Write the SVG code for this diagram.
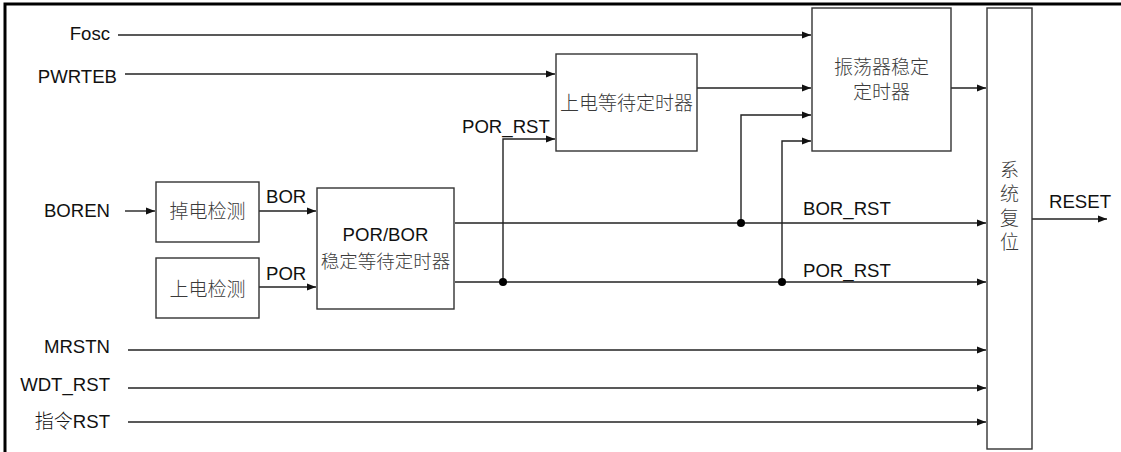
<svg xmlns="http://www.w3.org/2000/svg" width="1121" height="452" viewBox="0 0 1121 452">
<style>
.box{fill:#fff;stroke:#333;stroke-width:1.4}
.a{fill:none;stroke:#222;stroke-width:1.4;marker-end:url(#arr)}
.t{font-family:"Liberation Sans",Arial,sans-serif;font-size:18.6px;fill:#111}
.c{font-family:"Noto Sans CJK SC","Liberation Sans",sans-serif;font-size:19px;fill:#3a3a3a;font-weight:300}
.dot{fill:#000}
</style>
<defs>
<marker id="arr" markerWidth="9" markerHeight="8" refX="9" refY="4" orient="auto" markerUnits="userSpaceOnUse">
<path d="M0,0.5 L9,4 L0,7.5 Z" fill="#111"/>
</marker>
</defs>
<rect width="1121" height="452" fill="#fff"/>
<path d="M5,452 V4 H1121" fill="none" stroke="#000" stroke-width="3"/>

<g id="connectors">
<line class="a" x1="118" y1="35" x2="811" y2="35"/>
<line class="a" x1="125" y1="74" x2="555" y2="74"/>
<polyline class="a" points="503,282 503,139 555,139"/>
<line class="a" x1="697" y1="88" x2="811" y2="88"/>
<polyline class="a" points="741,223 741,115 811,115"/>
<polyline class="a" points="782,282 782,141 811,141"/>
<line class="a" x1="951" y1="88" x2="986" y2="88"/>
<line class="a" x1="125" y1="211" x2="155" y2="211"/>
<line class="a" x1="259" y1="211" x2="316" y2="211"/>
<line class="a" x1="259" y1="287" x2="316" y2="287"/>
<line class="a" x1="455" y1="223" x2="986" y2="223"/>
<line class="a" x1="455" y1="282" x2="986" y2="282"/>
<line class="a" x1="128" y1="350" x2="986" y2="350"/>
<line class="a" x1="128" y1="388" x2="986" y2="388"/>
<line class="a" x1="128" y1="422" x2="986" y2="422"/>
<line class="a" x1="1032" y1="219" x2="1107" y2="219"/>
<circle class="dot" cx="503" cy="282" r="4"/>
<circle class="dot" cx="741" cy="223" r="4"/>
<circle class="dot" cx="782" cy="282" r="4"/>
<text class="t" x="462" y="133">POR_RST</text>
<text class="t" x="803" y="215">BOR_RST</text>
<text class="t" x="803" y="277">POR_RST</text>
<text class="t" x="266" y="203">BOR</text>
<text class="t" x="266" y="280">POR</text>
<text class="t" x="1049" y="208">RESET</text>
</g>

<g id="inputs">
<text class="t" x="110" y="40" text-anchor="end">Fosc</text>
<text class="t" x="117" y="83" text-anchor="end">PWRTEB</text>
<text class="t" x="110" y="217" text-anchor="end">BOREN</text>
<text class="t" x="110" y="353" text-anchor="end">MRSTN</text>
<text class="t" x="110" y="391" text-anchor="end">WDT_RST</text>
<text x="110" y="428" text-anchor="end"><tspan class="c" style="fill:#111">指令</tspan><tspan class="t">RST</tspan></text>
</g>

<g id="n-pwrt">
<rect class="box" x="556" y="54" width="141" height="97"/>
<text class="c" x="626.5" y="110" text-anchor="middle">上电等待定时器</text>
</g>

<g id="n-ost">
<rect class="box" x="812" y="8" width="139" height="143"/>
<text class="c" text-anchor="middle"><tspan x="881.5" y="74">振荡器稳定</tspan><tspan x="881.5" y="99">定时器</tspan></text>
</g>

<g id="n-sysrst">
<rect class="box" x="987" y="8" width="45" height="441"/>
<text class="c" x="1009.5" y="160" writing-mode="tb" letter-spacing="5">系统复位</text>
</g>

<g id="n-bod">
<rect class="box" x="156" y="182" width="103" height="60"/>
<text class="c" x="207.5" y="218" text-anchor="middle">掉电检测</text>
</g>

<g id="n-pod">
<rect class="box" x="156" y="258" width="103" height="60"/>
<text class="c" x="207.5" y="296" text-anchor="middle">上电检测</text>
</g>

<g id="n-porbor">
<rect class="box" x="317" y="188" width="137" height="121"/>
<text class="t" x="385.5" y="241" text-anchor="middle">POR/BOR</text>
<text class="c" x="385.5" y="268" text-anchor="middle" style="font-size:18.5px">稳定等待定时器</text>
</g>
</svg>
